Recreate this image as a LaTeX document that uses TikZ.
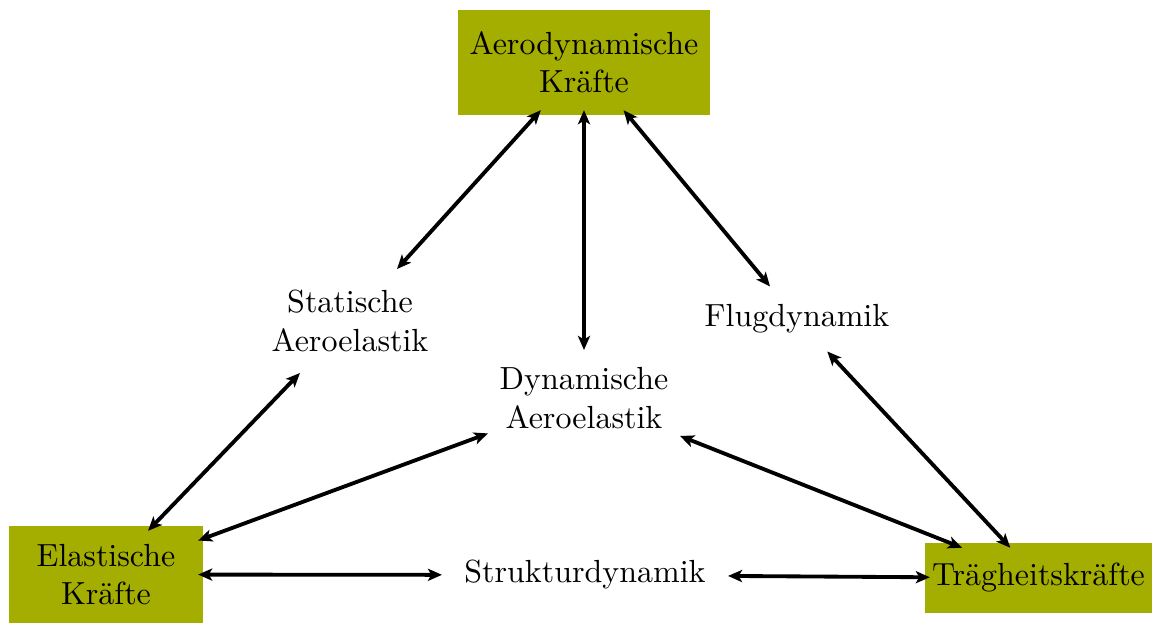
\documentclass[tikz,border=0pt]{standalone}
\usepackage{fontspec}
\usetikzlibrary{arrows.meta}
\definecolor{olive}{HTML}{A3AE00}
\tikzset{
  px/.style={x=0.3125pt,y=-0.3125pt},
  box/.style={rectangle,fill=olive,inner sep=0pt,outer sep=-1.5pt,align=center},
  txt/.style={rectangle,inner sep=0pt,outer sep=0pt,align=center},
  arr/.style={{Stealth[length=4.4pt,width=3.8pt,inset=1.1pt]}-{Stealth[length=4.4pt,width=3.8pt,inset=1.1pt]},line width=1.2pt}
}
\begin{document}
\begin{tikzpicture}[px]
\useasboundingbox (0,0) rectangle (1152,624);
\node[box,minimum width=78.75pt,minimum height=32.8pt] (aero) at (584,62.5) {Aerodynamische\\Kräfte};
\node[box,minimum width=60.6pt,minimum height=30.3pt] (elas) at (106,574.5) {Elastische\\Kräfte};
\node[box,minimum width=70.9pt,minimum height=21.9pt] (trag) at (1038.5,578) {Trägheitskräfte};
\node[txt,minimum width=50pt,minimum height=32.5pt] (stat) at (350,321) {Statische\\Aeroelastik};
\node[txt,minimum height=20.3pt] (flug) at (797,319) {Flugdynamik};
\node[txt,minimum width=60pt,minimum height=30pt] (dyn) at (584,398) {Dynamische\\Aeroelastik};
\node[txt,minimum width=89.4pt,minimum height=12pt] (strukt) at (585,575) {Strukturdynamik};
\draw[arr] (aero) -- (stat);
\draw[arr] (aero) -- (dyn);
\draw[arr] (aero) -- (flug);
\draw[arr] (stat) -- (elas);
\draw[arr] (dyn) -- (elas);
\draw[arr] (dyn) -- (trag);
\draw[arr] (flug) -- (trag);
\draw[arr] (elas) -- (strukt);
\draw[arr] (strukt) -- (trag);
\end{tikzpicture}
\end{document}
